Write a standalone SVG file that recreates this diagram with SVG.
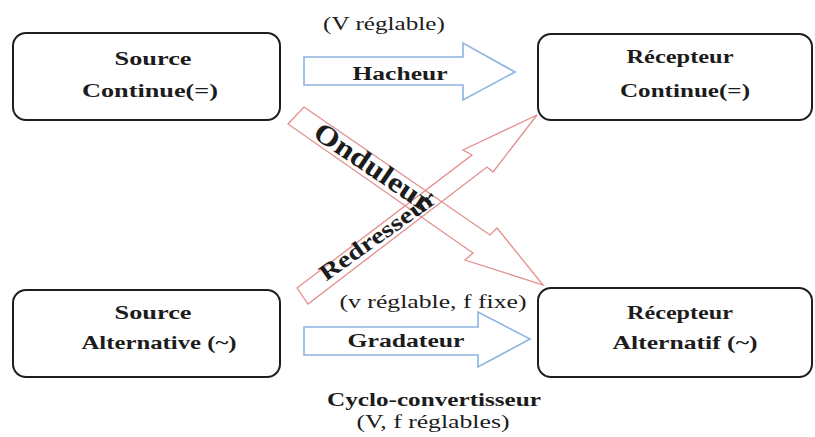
<svg xmlns="http://www.w3.org/2000/svg" width="815" height="437" viewBox="0 0 815 437" font-family="Liberation Serif, Times New Roman, serif">
  <style>
    .box { fill: #ffffff; stroke: #1e1e1e; stroke-width: 2; }
    .blue { fill: #ffffff; stroke: #8db3e2; stroke-width: 1.6; stroke-linejoin: miter; }
    .red { fill: none; stroke: #e38e8e; stroke-width: 1.3; stroke-linejoin: miter; }
    text { fill: #1c1c1c; text-anchor: middle; }
    .b { font-weight: bold; font-size: 19px; }
    .lbl { font-weight: bold; font-size: 18px; }
    .n { font-weight: normal; font-size: 18px; }
  </style>

  <!-- converter arrows -->
  <g id="connectors">
    <polygon id="hacheur" class="blue" points="304,57 463,57 463,43 515,72 463,100 463,85 304,85"/>
    <polygon id="gradateur" class="blue" points="304,327 478,327 478,312 530,339 478,367 478,355 304,355"/>
    <polygon id="onduleur" class="red" points="304,107 490,235 497,228 543,285 465,260 473,253 288,124"/>
    <polygon id="redresseur" class="red" points="297,288 472,155 463,150 537,115 493,172 487,167 308,304"/>

    <text class="lbl" x="400" y="80" textLength="95" lengthAdjust="spacingAndGlyphs">Hacheur</text>
    <text class="lbl" x="406" y="347" textLength="117" lengthAdjust="spacingAndGlyphs">Gradateur</text>
    <text class="n" transform="translate(323,30) scale(1.4,1)" style="text-anchor:start">(V réglable<tspan>)</tspan></text>
    <text class="n" x="433" y="308" textLength="187" lengthAdjust="spacingAndGlyphs">(v réglable, f fixe)</text>
    <text class="lbl" x="434" y="406" textLength="214" lengthAdjust="spacingAndGlyphs">Cyclo-convertisseur</text>
    <text class="n" x="433" y="428" textLength="153" lengthAdjust="spacingAndGlyphs">(V, f réglables)</text>

    <text transform="translate(373,167) rotate(34)" x="0" y="9" style="font-weight:bold;font-size:28px" textLength="136" lengthAdjust="spacingAndGlyphs">Onduleur</text>
    <text transform="translate(378,236) rotate(-35.5)" x="0" y="7" style="font-weight:bold;font-size:23px" textLength="138" lengthAdjust="spacingAndGlyphs">Redresseur</text>
  </g>

  <g id="source-continue">
    <rect class="box" x="13" y="33" width="267" height="87" rx="13"/>
    <text class="b" x="153" y="65" textLength="77" lengthAdjust="spacingAndGlyphs">Source</text>
    <text class="b" x="150" y="97" textLength="136" lengthAdjust="spacingAndGlyphs">Continue(=)</text>
  </g>

  <g id="recepteur-continu">
    <rect class="box" x="538" y="34" width="274" height="86" rx="13"/>
    <text class="b" x="680" y="63" textLength="107" lengthAdjust="spacingAndGlyphs">Récepteur</text>
    <text class="b" x="685" y="97" textLength="130" lengthAdjust="spacingAndGlyphs">Continue(=)</text>
  </g>

  <g id="source-alternative">
    <rect class="box" x="13" y="290" width="267" height="87" rx="13"/>
    <text class="b" x="153" y="319" textLength="77" lengthAdjust="spacingAndGlyphs">Source</text>
    <text class="b" x="159" y="349" textLength="155" lengthAdjust="spacingAndGlyphs">Alternative (~)</text>
  </g>

  <g id="recepteur-alternatif">
    <rect class="box" x="538" y="288" width="274" height="89" rx="13"/>
    <text class="b" x="680" y="319" textLength="106" lengthAdjust="spacingAndGlyphs">Récepteur</text>
    <text class="b" x="685" y="349" textLength="145" lengthAdjust="spacingAndGlyphs">Alternatif (~)</text>
  </g>
</svg>
